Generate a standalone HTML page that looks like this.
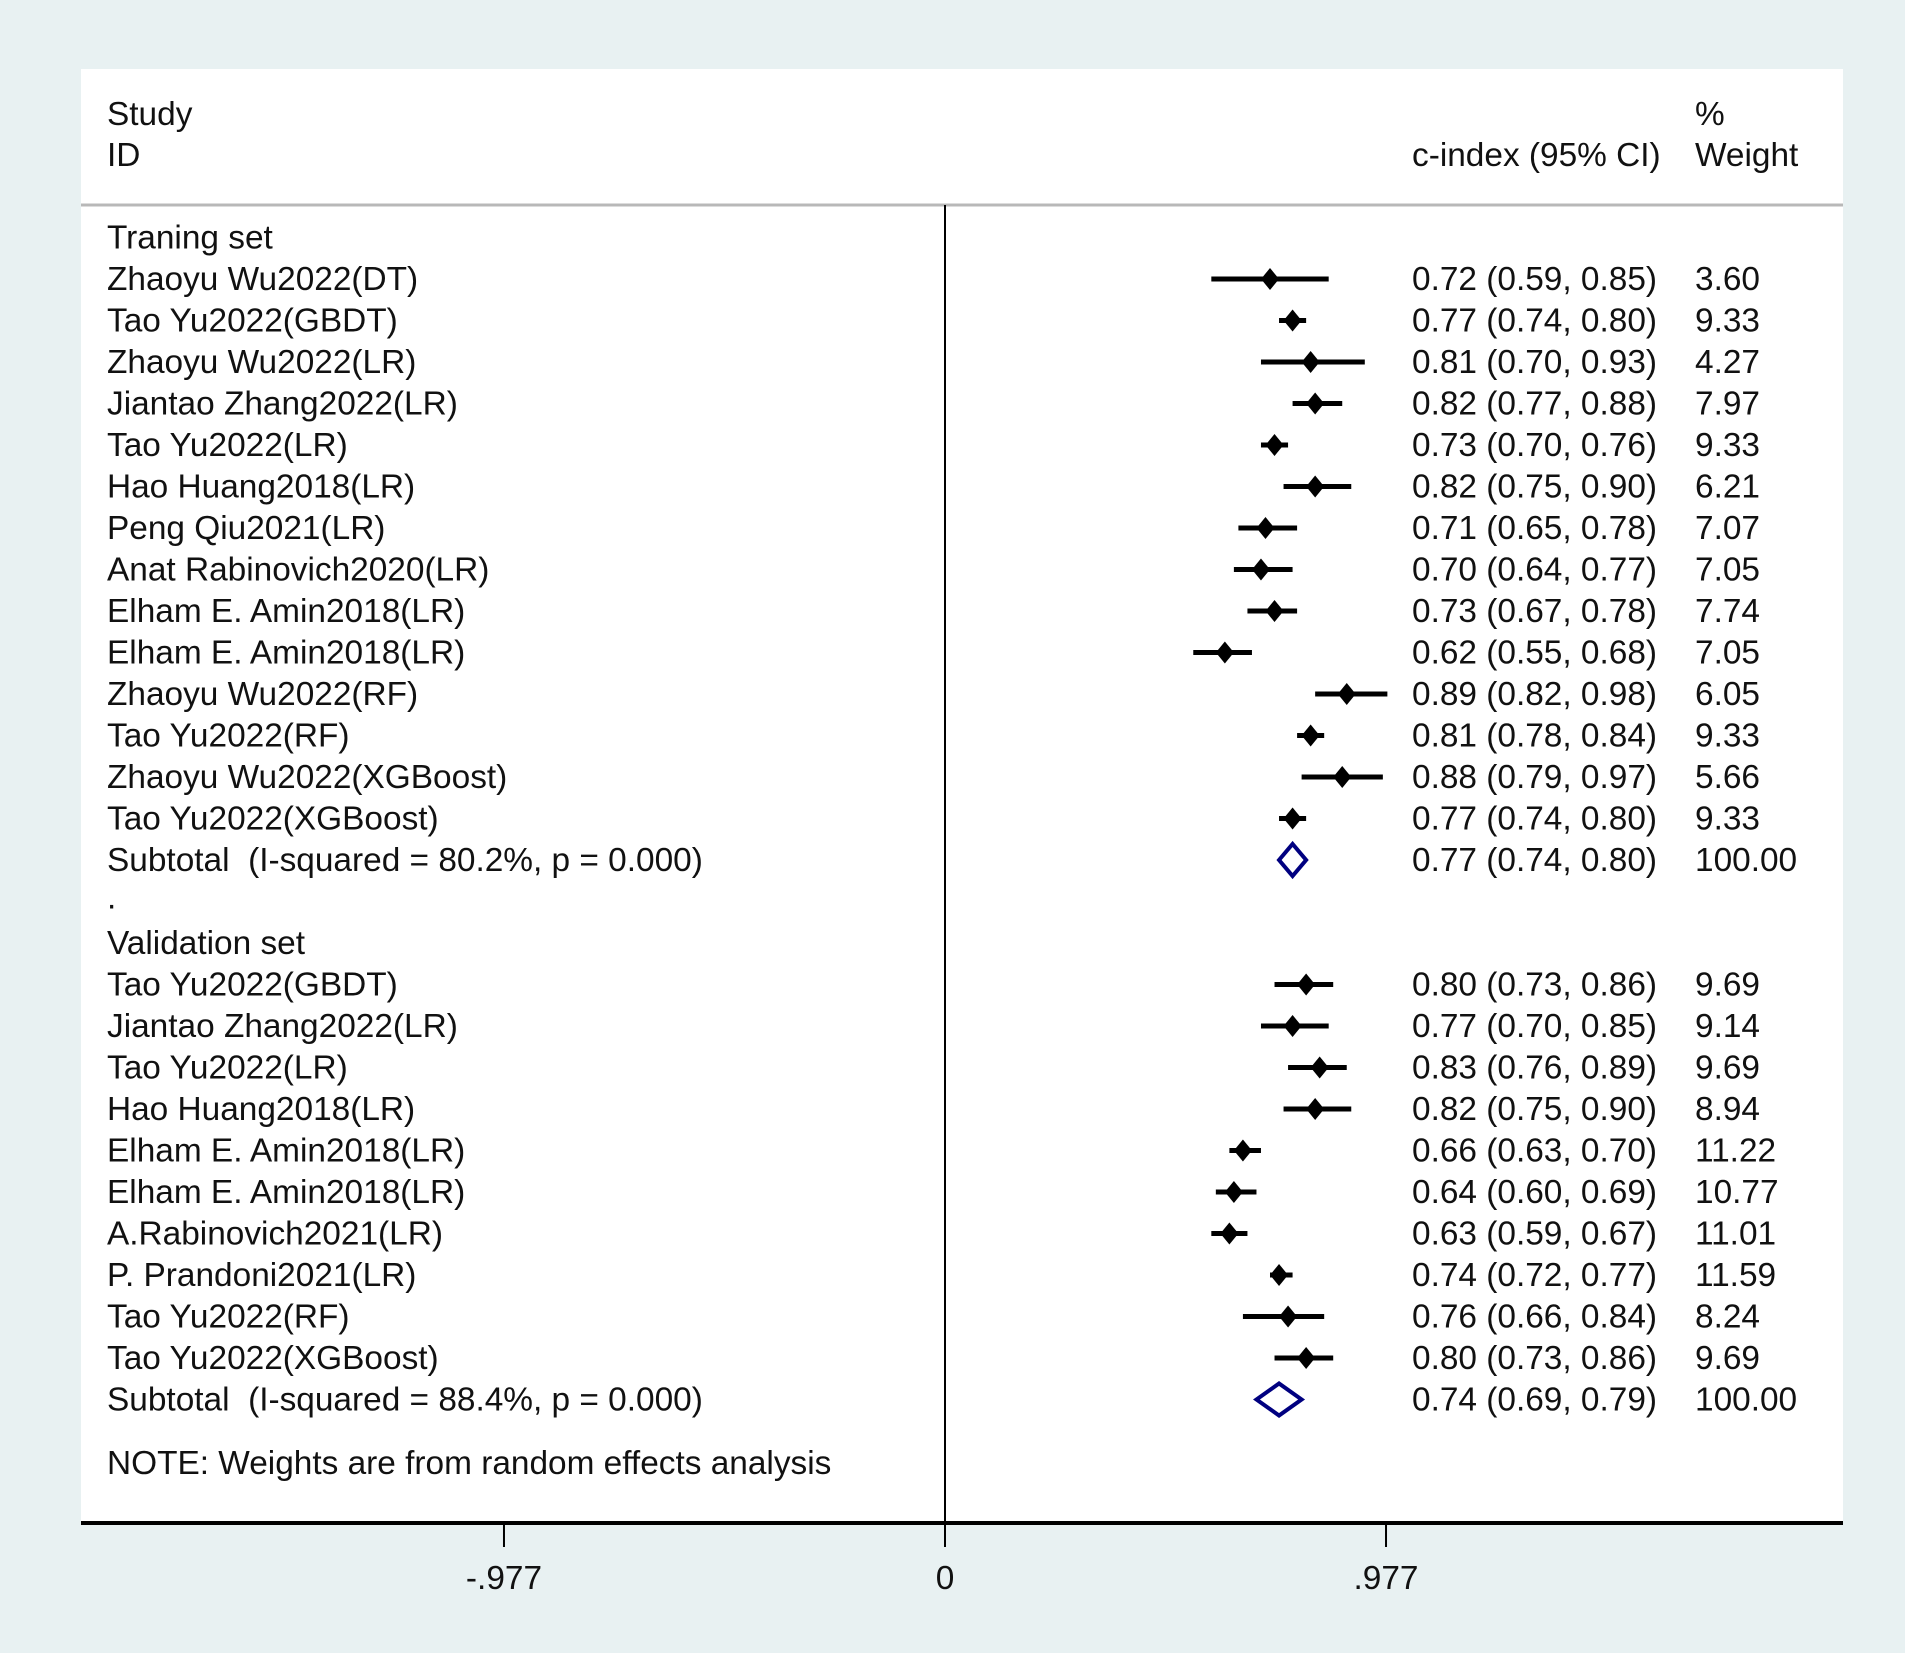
<!DOCTYPE html>
<html><head><meta charset="utf-8">
<style>
html,body{margin:0;padding:0;background:#e8f1f2;}
svg{display:block;}
text{font-family:"Liberation Sans",Arial,sans-serif;font-size:33.4px;fill:#111;white-space:pre;}
</style></head>
<body>
<svg id="chart" width="1905" height="1653" viewBox="0 0 1905 1653" xml:space="preserve">
<rect x="0" y="0" width="1905" height="1653" fill="#e8f1f2"/>
<rect x="81" y="69" width="1762" height="1454" fill="#ffffff"/>
<text x="107" y="125">Study</text>
<text x="107" y="166">ID</text>
<text x="1695" y="125">%</text>
<text x="1412" y="166">c-index (95% CI)</text>
<text x="1695" y="166">Weight</text>
<line x1="81" y1="205" x2="1843" y2="205" stroke="#b8b8b8" stroke-width="3"/>
<g id="rows"></g>
<g id="axis"></g>
</svg>
<script>
const labels = ["Zhaoyu Wu2022(DT)","Tao Yu2022(GBDT)","Zhaoyu Wu2022(LR)","Jiantao Zhang2022(LR)","Tao Yu2022(LR)","Hao Huang2018(LR)","Peng Qiu2021(LR)","Anat Rabinovich2020(LR)","Elham E. Amin2018(LR)","Elham E. Amin2018(LR)","Zhaoyu Wu2022(RF)","Tao Yu2022(RF)","Zhaoyu Wu2022(XGBoost)","Tao Yu2022(XGBoost)"];
const est = [0.72,0.77,0.81,0.82,0.73,0.82,0.71,0.70,0.73,0.62,0.89,0.81,0.88,0.77];
const lo = [0.59,0.74,0.70,0.77,0.70,0.75,0.65,0.64,0.67,0.55,0.82,0.78,0.79,0.74];
const hi = [0.85,0.80,0.93,0.88,0.76,0.90,0.78,0.77,0.78,0.68,0.98,0.84,0.97,0.80];
const weights = ["3.60","9.33","4.27","7.97","9.33","6.21","7.07","7.05","7.74","7.05","6.05","9.33","5.66","9.33"];
const vLabels = ["Tao Yu2022(GBDT)","Jiantao Zhang2022(LR)","Tao Yu2022(LR)","Hao Huang2018(LR)","Elham E. Amin2018(LR)","Elham E. Amin2018(LR)","A.Rabinovich2021(LR)","P. Prandoni2021(LR)","Tao Yu2022(RF)","Tao Yu2022(XGBoost)"];
const vEst = [0.80,0.77,0.83,0.82,0.66,0.64,0.63,0.74,0.76,0.80];
const vLo = [0.73,0.70,0.76,0.75,0.63,0.60,0.59,0.72,0.66,0.73];
const vHi = [0.86,0.85,0.89,0.90,0.70,0.69,0.67,0.77,0.84,0.86];
const vWeights = ["9.69","9.14","9.69","8.94","11.22","10.77","11.01","11.59","8.24","9.69"];
const subtotals = [
  {label:"Subtotal  (I-squared = 80.2%, p = 0.000)", est:0.77, lo:0.74, hi:0.80},
  {label:"Subtotal  (I-squared = 88.4%, p = 0.000)", est:0.74, lo:0.69, hi:0.79}
];
const tickValues = [-0.977, 0, 0.977];
const tickLabels = ["-.977","0",".977"];

const NS="http://www.w3.org/2000/svg";
const X0=945, PXU=451.4;
function xs(v){return X0+v*PXU;}
function rowY(i){return 279+41.5*i;}
const rows=document.getElementById('rows');
const axis=document.getElementById('axis');
function mk(tag,attrs,parent){const e=document.createElementNS(NS,tag);for(const k in attrs)e.setAttribute(k,attrs[k]);parent.appendChild(e);return e;}
function txt(x,y,s,parent){const t=mk('text',{x:x,y:y+11},parent);t.textContent=s;return t;}
function f2(v){return v.toFixed(2);}

const vl=mk('line',{x1:X0,y1:205,x2:X0,y2:1523,stroke:'#000','stroke-width':2},axis);



const t1=txt(107,rowY(-1),"Traning set",rows);



function study(i,lab,e,l,h,w){
  const y=rowY(i);
  const g=mk('g',{},rows);
  
  
  txt(107,y,lab,g);
  const ln=mk('line',{x1:xs(l),y1:y,x2:xs(h),y2:y,stroke:'#000','stroke-width':5},g);
  
  
  const cx=xs(e);
  const d=mk('polygon',{points:`${cx-9},${y} ${cx},${y-11} ${cx+9},${y} ${cx},${y+11}`,fill:'#000'},g);
  
  
  txt(1412,y,`${f2(e)} (${f2(l)}, ${f2(h)})`,g);
  txt(1695,y,w,g);
}
function subtotal(i,s){
  const y=rowY(i);
  const g=mk('g',{},rows);
  
  
  txt(107,y,s.label,g);
  const d=mk('polygon',{points:`${xs(s.lo)},${y} ${xs(s.est)},${y-16} ${xs(s.hi)},${y} ${xs(s.est)},${y+16}`,fill:'none',stroke:'#000080','stroke-width':4},g);
  
  
  txt(1412,y,`${f2(s.est)} (${f2(s.lo)}, ${f2(s.hi)})`,g);
  txt(1695,y,"100.00",g);
}
labels.forEach((lab,i)=>study(i,lab,est[i],lo[i],hi[i],weights[i]));
subtotal(labels.length,subtotals[0]);
const dot=txt(107,rowY(labels.length+1)-4,".",rows);


const vstart=labels.length+3;
const t2=txt(107,rowY(vstart-1),"Validation set",rows);


vLabels.forEach((lab,i)=>study(vstart+i,lab,vEst[i],vLo[i],vHi[i],vWeights[i]));
subtotal(vstart+vLabels.length,subtotals[1]);
const note=txt(107,1463,"NOTE: Weights are from random effects analysis",rows);



const ax=mk('line',{x1:81,y1:1523,x2:1843,y2:1523,stroke:'#000','stroke-width':4},axis);


tickValues.forEach((v,i)=>{
  const tk=mk('line',{x1:xs(v),y1:1523,x2:xs(v),y2:1547,stroke:'#000','stroke-width':2},axis);
  
  
  const t=mk('text',{x:xs(v),y:1589,'text-anchor':'middle'},axis);
  t.textContent=tickLabels[i];
  
  
});
</script>
</body></html>
